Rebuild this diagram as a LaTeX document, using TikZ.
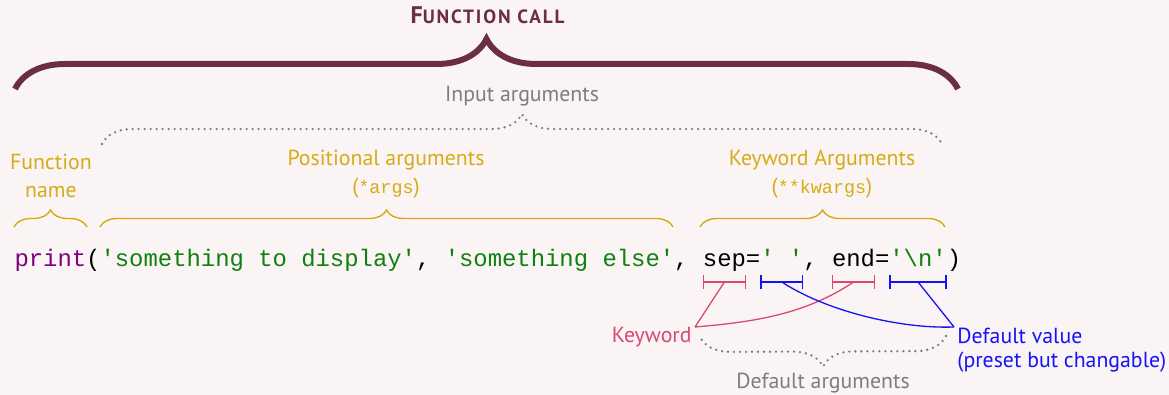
\documentclass[tikz,border=0pt]{standalone}
\usepackage{fontspec}
\setmainfont{PT Sans}
\setmonofont{Liberation Mono}
\usetikzlibrary{positioning}
\usetikzlibrary{decorations.pathreplacing,arrows.meta}

\definecolor{bgpink}{RGB}{250,244,245}
\definecolor{callred}{RGB}{107,46,68}
\definecolor{argyellow}{RGB}{214,172,22}
\definecolor{inputgray}{RGB}{125,125,125}
\definecolor{kwpink}{RGB}{219,72,118}
\definecolor{dvblue}{RGB}{20,20,245}
\definecolor{strgreen}{RGB}{16,128,16}
\definecolor{fnpurple}{RGB}{128,0,128}

\tikzset{
	codepart/.style={inner sep=0pt, outer sep=0pt, anchor=base west, font=\ttfamily\fontsize{11.95}{14}\selectfont},
	label/.style={inner sep=0pt, font=\fontsize{10.9}{14}\selectfont},
	bracedeco/.style={decorate, decoration={brace, amplitude=#1}},
	dotbrace/.style={inputgray, line width=1.3pt, line cap=round, dash pattern=on 0pt off 3pt, bracedeco=15pt},
	argbrace/.style={argyellow, line width=0.7pt, bracedeco=8.5pt},
	spanbar/.style={{Bar[width=7pt]}-{Bar[width=7pt]}, line width=0.65pt},
	pointer/.style={line width=0.65pt}
}

\begin{document}
\begin{tikzpicture}[x=0.5pt,y=-0.5pt]
		\path[use as bounding box, fill=bgpink] (0,0) rectangle (1169,395);
		
		% function call
		\node[anchor=base, text=callred, font=\bfseries\addfontfeature{LetterSpace=10}] (title) at (487.5,24) {{\fontsize{12}{12}\selectfont F}{\fontsize{9.6}{12}\selectfont UNCTION CALL}};
		\coordinate (callL) at (15,89);
		\coordinate (callR) at (958,89);
		\draw[callred, line width=3pt, bracedeco=25pt] (callL) -- (callR);
		
		% input arguments
		\node[label, anchor=base, text=inputgray] (input) at (522,102) {Input arguments};
		\coordinate (inL) at (102,144);
		\coordinate (inR) at (942,144);
		\draw[dotbrace] (inL) -- (inR);
		
		\node[label, anchor=base, align=center, text=argyellow] (fnlabel) at (51,198) {Function\\name};
		\node[label, anchor=base, align=center, text=argyellow] (poslabel) at (386,194) {Positional arguments\\(\texttt{\fontsize{9.2}{14}\selectfont *args})};
		\node[label, anchor=base, align=center, text=argyellow] (kwlabel) at (822,194) {Keyword Arguments\\(\texttt{\fontsize{9.2}{14}\selectfont **kwargs})};
		\draw[argbrace] (14,227) -- (87,227);
		\draw[argbrace] (100,227) -- (673,227);
		\draw[argbrace] (700,227) -- (945,227);
		
		% the code line
		\node[codepart] (head) at (14.5,267) {\color{fnpurple}print\color{black}(\color{strgreen}'something to display'\color{black},\ \color{strgreen}'something else'\color{black},\ \mbox{}};
		\node[codepart] (sepkw) at (head.base east) {sep};
		\node[codepart] (sepeq) at (sepkw.base east) {=};
		\node[codepart, text=strgreen] (sepval) at (sepeq.base east) {'\ '};
		\node[codepart] (comma) at (sepval.base east) {,\ \mbox{}};
		\node[codepart] (endkw) at (comma.base east) {end};
		\node[codepart] (endeq) at (endkw.base east) {=};
		\node[codepart, text=strgreen] (endval) at (endeq.base east) {'\symbol{92}n'};
		\node[codepart] (close) at (endval.base east) {)};
		
		\draw[spanbar, kwpink] ([yshift=-7.5pt]sepkw.base west) -- ([yshift=-7.5pt]sepkw.base east);
		\draw[spanbar, dvblue] ([yshift=-7.5pt]sepval.base west) -- ([yshift=-7.5pt]sepval.base east);
		\draw[spanbar, kwpink] ([yshift=-7.5pt]endkw.base west) -- ([yshift=-7.5pt]endkw.base east);
		\draw[spanbar, dvblue] ([yshift=-7.5pt]endval.base west) -- ([yshift=-7.5pt]endval.base east);
		\coordinate (sepmark) at ([yshift=-7.5pt]sepkw.base);
		\coordinate (sepvalmark) at ([yshift=-7.5pt]sepval.base);
		\coordinate (endmark) at ([yshift=-7.5pt]endkw.base);
		\coordinate (endvalmark) at ([yshift=-7.5pt]endval.base);
		
		% keyword and default value
		\node[label, anchor=base east, text=kwpink] (kw) at (692,343) {Keyword};
		\node[label, anchor=base west, align=left, text=dvblue, font=\fontsize{10.9}{12}\selectfont] (dv) at (957,368) {Default value\\(preset but changable)};
		\coordinate (kwjoin) at (695,327);
		\coordinate (dvjoin) at (954,327);
		\draw[pointer, kwpink] (kwjoin) -- (sepmark);
		\draw[pointer, kwpink] (kwjoin) .. controls (755,322) and (806,314) .. (endmark);
		\draw[pointer, dvblue] (dvjoin) -- (endvalmark);
		\draw[pointer, dvblue] (sepvalmark) .. controls (826,311) and (900,329) .. (dvjoin);
		
		% default arguments
		\coordinate (defR) at (946,336);
		\coordinate (defL) at (700,337);
		\draw[dotbrace] (defR) -- (defL);
		\node[label, anchor=base, text=inputgray] (defargs) at (823,389) {Default arguments};
	\end{tikzpicture}
\end{document}
